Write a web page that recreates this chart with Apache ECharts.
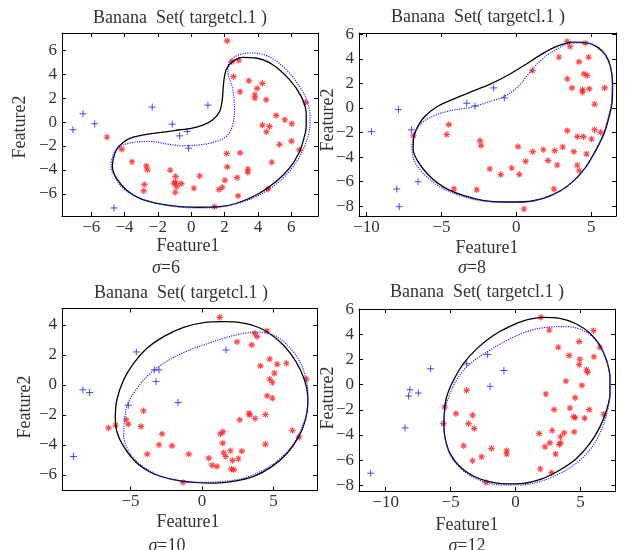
<!DOCTYPE html>
<html>
<head>
<meta charset="utf-8">
<script src="https://cdn.jsdelivr.net/npm/echarts@6/dist/echarts.min.js"></script>
<style>
  html, body { margin: 0; background: #fff; }
  #chart { width: 627px; height: 550px; }
</style>
</head>
<body>
<div id="chart"></div>
<script>
// sigma of each panel
const sigmas = [6, 8, 10, 12]

// target points (red) and outliers (blue)
const targets6 = [[2.16,6.79],[2.44,5.06],[2.85,5.17],[2.53,3.80],[3.45,3.46],[4.27,3.24],[3.95,2.82],[2.93,2.54],[3.81,2.29],[3.81,2.01],[4.49,1.87],[6.85,1.65],[5.09,0.56],[5.61,0.20],[6.03,-0.14],[4.27,-0.25],[4.69,-0.36],[4.51,-0.81],[-5.05,-1.26],[-4.17,-2.26],[5.29,-1.87],[6.01,-1.59],[6.49,-2.32],[2.12,-2.63],[2.93,-2.57],[-3.55,-3.32],[-2.69,-3.66],[-2.63,-3.99],[-1.26,-4.02],[2.16,-3.74],[3.39,-3.94],[3.39,-4.19],[2.75,-4.64],[-0.94,-4.55],[0.50,-4.50],[-1.04,-5.11],[-0.94,-5.03],[-0.60,-5.14],[-0.88,-5.39],[-0.96,-5.87],[-2.81,-5.22],[-2.85,-5.75],[0.16,-5.53],[1.66,-5.64],[1.86,-5.45],[2.02,-4.86],[2.81,-6.17],[4.61,-5.59],[4.83,-3.35],[1.40,-7.07]]
const outliers6 = [[-7.09,-0.64],[-6.49,0.70],[-5.79,-0.14],[-2.34,1.26],[1.0,1.42],[-1.14,-0.17],[-0.70,-1.15],[-0.24,-0.78],[-0.16,-2.18],[-4.63,-7.18]]

const targets8 = [[-6.87,-2.26],[-4.51,-1.36],[-4.64,-2.17],[-4.16,-6.60],[-2.42,-2.66],[-2.36,-3.07],[-2.64,-6.66],[-1.78,-4.97],[-1.04,-5.43],[-0.31,-4.89],[0.11,-3.15],[0.20,-5.41],[0.51,-8.23],[0.62,-4.35],[1.07,3.04],[1.09,-3.56],[1.80,-3.40],[2.11,-4.29],[2.56,-3.48],[2.73,-4.65],[2.51,-6.60],[3.09,-3.18],[3.40,-1.85],[3.40,5.41],[3.58,5.0],[2.84,4.13],[3.40,2.36],[3.71,1.63],[3.84,-3.56],[4.07,-2.34],[4.07,-4.67],[4.20,-5.11],[4.18,3.75],[4.47,-2.34],[4.42,1.49],[4.42,1.28],[4.51,2.77],[4.60,5.27],[4.73,2.64],[4.82,4.13],[4.87,1.55],[4.69,-3.75],[5.02,-2.53],[5.22,0.30],[5.22,-1.77],[5.89,1.63],[5.62,-1.98]]
const outliers8 = [[-9.67,-1.93],[-7.87,-0.14],[-7.0,-1.79],[-7.98,-6.60],[-7.82,-8.04],[-6.56,-6.01],[-3.31,0.38],[-2.76,0.16],[-1.51,1.63],[-0.80,0.82]]

const targets10 = [[1.24,4.51],[-6.54,-2.87],[-6.05,-2.69],[-5.30,-2.33],[-5.16,-2.62],[-4.09,-1.73],[-4.27,-2.78],[-2.80,-3.27],[-3.01,-4.0],[-3.83,-4.62],[-2.10,-4.07],[-0.93,-4.62],[0.47,-4.89],[0.70,-5.36],[1.05,-5.44],[-1.33,-6.51],[1.29,-3.27],[1.47,-3.13],[1.45,-3.89],[1.52,-4.53],[1.66,-4.78],[1.99,-4.40],[2.13,-5.04],[2.06,-5.62],[2.22,-5.67],[2.55,-4.93],[2.78,-4.42],[2.64,-2.33],[2.45,2.87],[3.29,-1.89],[3.34,-2.0],[3.71,-2.24],[3.48,2.67],[3.69,3.44],[3.86,3.22],[4.56,3.60],[4.09,1.27],[4.44,-1.98],[4.44,-3.96],[4.56,-0.73],[4.74,1.73],[4.74,0.38],[4.93,0.16],[4.93,-0.89],[5.07,0.78],[5.26,1.38],[5.91,1.44],[6.33,-3.04],[6.80,-3.49],[7.31,0.38]]
const outliers10 = [[-9.0,-4.78],[-8.34,-0.33],[-7.87,-0.51],[-4.60,2.20],[-3.34,1.0],[-3.01,1.0],[-3.22,0.22],[-5.16,-1.36],[-1.68,-1.18],[1.68,2.33]]

const targets12 = [[1.95,5.36],[2.59,4.35],[6.0,4.30],[3.28,2.98],[4.90,3.43],[4.13,2.32],[4.95,2.03],[4.90,1.61],[6.03,2.22],[6.49,2.98],[5.46,1.19],[5.54,0.98],[3.87,0.29],[5.10,-0.05],[-3.77,-0.45],[2.33,-0.74],[4.59,-1.03],[2.97,-1.98],[4.18,-1.85],[5.67,-1.98],[-5.46,-1.77],[-4.59,-2.30],[-3.31,-2.43],[-5.56,-3.09],[-3.62,-3.09],[-3.18,-3.48],[4.46,-2.56],[4.59,-2.61],[5.31,-2.66],[6.79,-2.35],[2.82,-3.64],[1.82,-3.88],[3.74,-3.83],[3.46,-4.14],[4.51,-3.75],[3.36,-4.75],[3.46,-4.62],[2.26,-4.93],[2.64,-4.62],[3.08,-5.51],[-4.0,-4.85],[-1.85,-5.07],[-0.69,-5.25],[-0.69,-5.51],[-2.62,-5.73],[-3.31,-6.04],[1.90,-6.70],[2.77,-6.99],[-2.28,-7.78]]
const outliers12 = [[-11.15,-7.04],[-8.51,-3.43],[-8.23,-0.90],[-8.13,-0.40],[-7.49,-0.66],[-6.54,1.27],[-3.77,1.66],[-2.15,2.40],[-1.97,-0.13],[-0.90,1.13]]

// boundaries: black solid and blue dotted
const solid6 = [[-4.69,-3.16],[-4.49,-2.32],[-4.09,-1.70],[-3.49,-1.26],[-2.50,-0.98],[-1.50,-0.81],[-0.70,-0.64],[0,-0.53],[0.70,-0.25],[1.30,0.20],[1.70,0.89],[1.86,1.87],[1.94,3.27],[2.10,4.39],[2.50,5.08],[3.09,5.42],[3.89,5.36],[4.89,4.80],[5.89,3.55],[6.59,2.15],[6.89,0.75],[6.89,-0.36],[6.73,-1.48],[6.45,-2.60],[5.89,-3.85],[5.09,-4.97],[4.09,-5.95],[2.89,-6.70],[1.70,-7.07],[0.50,-7.12],[-0.70,-7.07],[-1.90,-6.84],[-3.09,-6.37],[-3.89,-5.67],[-4.49,-4.69],[-4.73,-3.72]]
const dotted6 = [[-4.77,-3.16],[-4.59,-2.46],[-4.19,-1.98],[-3.49,-1.70],[-2.50,-1.62],[-1.50,-1.82],[-0.50,-1.98],[0.50,-1.90],[1.30,-1.70],[2.10,-1.20],[2.46,-0.36],[2.59,1.03],[2.50,2.71],[2.20,4.25],[2.30,5.08],[2.89,5.64],[3.69,5.78],[4.69,5.45],[5.69,4.39],[6.49,2.99],[6.99,1.59],[7.13,0.20],[7.05,-0.92],[6.79,-2.04],[6.39,-3.16],[5.79,-4.27],[4.89,-5.39],[3.89,-6.23],[2.69,-6.84],[1.50,-7.12],[0.30,-7.18],[-0.90,-7.07],[-2.10,-6.79],[-3.29,-6.23],[-4.09,-5.53],[-4.59,-4.55],[-4.81,-3.72]]

const solid8 = [[-6.87,-2.66],[-6.71,-1.85],[-6.16,-0.76],[-5.27,0.11],[-4.16,0.73],[-2.82,1.41],[-1.71,1.96],[-0.60,2.64],[0.51,3.45],[1.62,4.32],[2.73,5.03],[3.84,5.35],[4.73,5.30],[5.40,4.95],[5.96,4.27],[6.29,3.32],[6.42,1.96],[6.40,0.60],[6.18,-0.76],[5.84,-2.12],[5.29,-3.48],[4.62,-4.84],[3.84,-5.92],[2.96,-6.74],[1.84,-7.34],[0.51,-7.64],[-0.82,-7.66],[-2.16,-7.55],[-3.49,-7.15],[-4.82,-6.47],[-5.93,-5.38],[-6.60,-4.29],[-6.89,-3.34]]
const dotted8 = [[-6.98,-3.21],[-6.82,-2.12],[-6.38,-1.30],[-5.49,-0.63],[-4.38,-0.22],[-3.04,0.05],[-1.93,0.46],[-0.82,0.92],[0.07,1.68],[0.73,2.64],[1.62,3.86],[2.73,4.81],[3.84,5.30],[4.96,5.22],[5.73,4.67],[6.18,3.72],[6.40,2.23],[6.36,0.60],[6.13,-0.76],[5.80,-2.12],[5.29,-3.48],[4.62,-4.84],[3.84,-5.92],[2.84,-6.79],[1.62,-7.42],[0.29,-7.69],[-1.04,-7.69],[-2.38,-7.55],[-3.71,-7.15],[-5.04,-6.47],[-6.16,-5.38],[-6.82,-4.29]]

const solid10 = [[-6.07,-2.11],[-5.96,-1.0],[-5.49,0.33],[-4.79,1.44],[-3.86,2.44],[-2.69,3.22],[-1.29,3.84],[0.12,4.16],[1.52,4.22],[2.69,4.16],[4.09,3.78],[5.26,3.04],[6.19,2.11],[6.89,1.0],[7.31,-0.11],[7.41,-1.22],[7.24,-2.33],[6.78,-3.44],[5.96,-4.56],[4.91,-5.44],[3.62,-6.11],[2.22,-6.44],[0.82,-6.56],[-0.58,-6.51],[-1.99,-6.33],[-3.39,-5.93],[-4.56,-5.22],[-5.49,-4.11],[-5.96,-3.11]]
const dotted10 = [[-5.49,-3.44],[-5.44,-2.56],[-5.26,-1.44],[-4.79,-0.56],[-3.86,0.56],[-2.69,1.44],[-1.29,2.16],[0.12,2.67],[1.52,3.11],[2.69,3.40],[3.86,3.53],[5.02,3.33],[5.96,2.67],[6.78,1.67],[7.24,0.56],[7.41,-0.56],[7.36,-1.67],[7.01,-2.78],[6.43,-3.89],[5.49,-4.89],[4.32,-5.67],[2.92,-6.22],[1.52,-6.44],[0.12,-6.51],[-1.29,-6.44],[-2.69,-6.16],[-3.86,-5.62],[-4.79,-4.89],[-5.30,-4.11]]

const solid12 = [[-5.49,-2.30],[-5.31,-0.98],[-4.79,0.34],[-4.03,1.66],[-3.0,2.85],[-1.72,3.91],[-0.44,4.64],[0.85,5.15],[2.13,5.36],[3.41,5.28],[4.69,4.83],[5.72,4.09],[6.49,3.11],[7.0,1.93],[7.26,0.61],[7.26,-0.71],[7.0,-2.03],[6.49,-3.35],[5.72,-4.67],[4.69,-5.86],[3.41,-6.78],[2.13,-7.44],[0.59,-7.84],[-0.69,-7.89],[-1.97,-7.73],[-3.26,-7.26],[-4.28,-6.52],[-5.05,-5.46],[-5.44,-4.14],[-5.51,-3.09]]
const dotted12 = [[-5.56,-3.35],[-5.44,-2.03],[-5.05,-0.71],[-4.41,0.61],[-3.51,1.66],[-2.23,2.59],[-0.69,3.51],[0.85,4.22],[2.38,4.56],[3.92,4.62],[5.21,4.30],[6.23,3.51],[6.87,2.32],[7.21,1.0],[7.31,-0.18],[7.18,-1.50],[6.87,-2.82],[6.36,-4.14],[5.59,-5.33],[4.56,-6.33],[3.28,-7.12],[1.87,-7.70],[0.33,-7.97],[-1.08,-7.97],[-2.49,-7.70],[-3.77,-7.04],[-4.79,-5.99],[-5.31,-4.80]]

// axis ranges [min, max, splitNumber]
const xRanges = [[-7.75, 7.6, 7], [-10.5, 6.65, 3], [-9.8, 8.05, 4], [-12.05, 7.65, 4]]
const yRanges = [[-7.85, 7.45, 7], [-8.8, 6.1, 7], [-7.05, 5.1, 6], [-8.45, 6.02, 7]]

const targets = [targets6, targets8, targets10, targets12]
const outliers = [outliers6, outliers8, outliers10, outliers12]
const solids = [solid6, solid8, solid10, solid12]
const dotteds = [dotted6, dotted8, dotted10, dotted12]

// layout of the four panels
const grids = [
  { left: 62, top: 33, width: 256, height: 183 },
  { left: 359, top: 33, width: 257, height: 183 },
  { left: 62, top: 308.5, width: 255, height: 182 },
  { left: 359, top: 309, width: 256, height: 182 }
]
const titlePos = [[180, 18], [478, 17], [181, 293], [477, 292]]
const xNamePos = [[188, 246], [487, 248], [188, 522], [467, 525]]
const yNamePos = [[20, 127], [328, 120], [25, 407], [328, 398]]
const sigmaPos = [[166, 268], [472, 268], [167, 546], [467, 546]]

const FONT = 'Liberation Serif'
const TXT = '#333'
const plusPath = 'path://M0,-1L0,1M-1,0L1,0'
const starPath = 'path://M0,-1L0,1M-1,0L1,0M-0.7,-0.7L0.7,0.7M-0.7,0.7L0.7,-0.7'

const minus = v => String(v).replace('-', '\u2212')
const closed = pts => pts.concat([pts[0]])

function makeAxes(ranges, isX) {
  const out = []
  ranges.forEach((r, i) => {
    const base = {
      type: 'value',
      gridIndex: i,
      min: r[0],
      max: r[1],
      splitNumber: r[2],
      splitLine: { show: false },
      axisLine: { onZero: false, lineStyle: { color: '#000', width: 1 } },
      axisTick: { inside: true, length: 4, lineStyle: { color: '#000' } }
    }
    out.push(Object.assign({}, base, {
      position: isX ? 'bottom' : 'left',
      axisLabel: {
        showMinLabel: false,
        showMaxLabel: false,
        color: TXT,
        fontFamily: FONT,
        fontSize: 17,
        margin: isX ? 3 : 5,
        formatter: minus
      }
    }))
    out.push(Object.assign({}, base, {
      position: isX ? 'top' : 'right',
      axisLabel: { show: false }
    }))
  })
  return out
}

const series = []
const graphic = []
sigmas.forEach((s, i) => {
  const ax = { xAxisIndex: 2 * i, yAxisIndex: 2 * i }
  series.push(Object.assign({
    type: 'scatter',
    data: targets[i],
    symbol: starPath,
    symbolSize: 6.5,
    itemStyle: { color: 'rgba(0,0,0,0)', borderColor: '#ff1a1a', borderWidth: 1.1 },
    z: 2
  }, ax))
  series.push(Object.assign({
    type: 'scatter',
    data: outliers[i],
    symbol: plusPath,
    symbolSize: 7,
    itemStyle: { color: 'rgba(0,0,0,0)', borderColor: '#1f1fff', borderWidth: 1 },
    z: 2
  }, ax))
  series.push(Object.assign({
    type: 'line',
    data: closed(solids[i]),
    smooth: 0.35,
    showSymbol: false,
    lineStyle: { color: '#000', width: 1.3 },
    z: 3
  }, ax))
  series.push(Object.assign({
    type: 'line',
    data: closed(dotteds[i]),
    smooth: 0.35,
    showSymbol: false,
    lineStyle: { color: '#2525ff', width: 1.2, type: [1.2, 1.2] },
    z: 3
  }, ax))

  graphic.push({
    type: 'text', x: titlePos[i][0], y: titlePos[i][1],
    style: { text: 'Banana  Set( targetcl.1 )', fill: TXT, font: '18px "' + FONT + '"', align: 'center', verticalAlign: 'middle' }
  })
  graphic.push({
    type: 'text', x: xNamePos[i][0], y: xNamePos[i][1],
    style: { text: 'Feature1', fill: TXT, font: '18px "' + FONT + '"', align: 'center', verticalAlign: 'middle' }
  })
  graphic.push({
    type: 'text', x: yNamePos[i][0], y: yNamePos[i][1], rotation: Math.PI / 2,
    style: { text: 'Feature2', fill: TXT, font: '18px "' + FONT + '"', align: 'center', verticalAlign: 'middle' }
  })
  graphic.push({
    type: 'text', x: sigmaPos[i][0], y: sigmaPos[i][1],
    style: {
      text: '{i|σ}=' + s,
      fill: TXT,
      font: '18px "' + FONT + '"',
      align: 'center',
      verticalAlign: 'middle',
      rich: { i: { fontStyle: 'italic', fontFamily: FONT, fontSize: 18, fill: TXT } }
    }
  })
})

const chart = echarts.init(document.getElementById('chart'))
chart.setOption({
  animation: false,
  backgroundColor: '#fff',
  grid: grids,
  xAxis: makeAxes(xRanges, true),
  yAxis: makeAxes(yRanges, false),
  series: series,
  graphic: graphic
})
</script>
</body>
</html>
